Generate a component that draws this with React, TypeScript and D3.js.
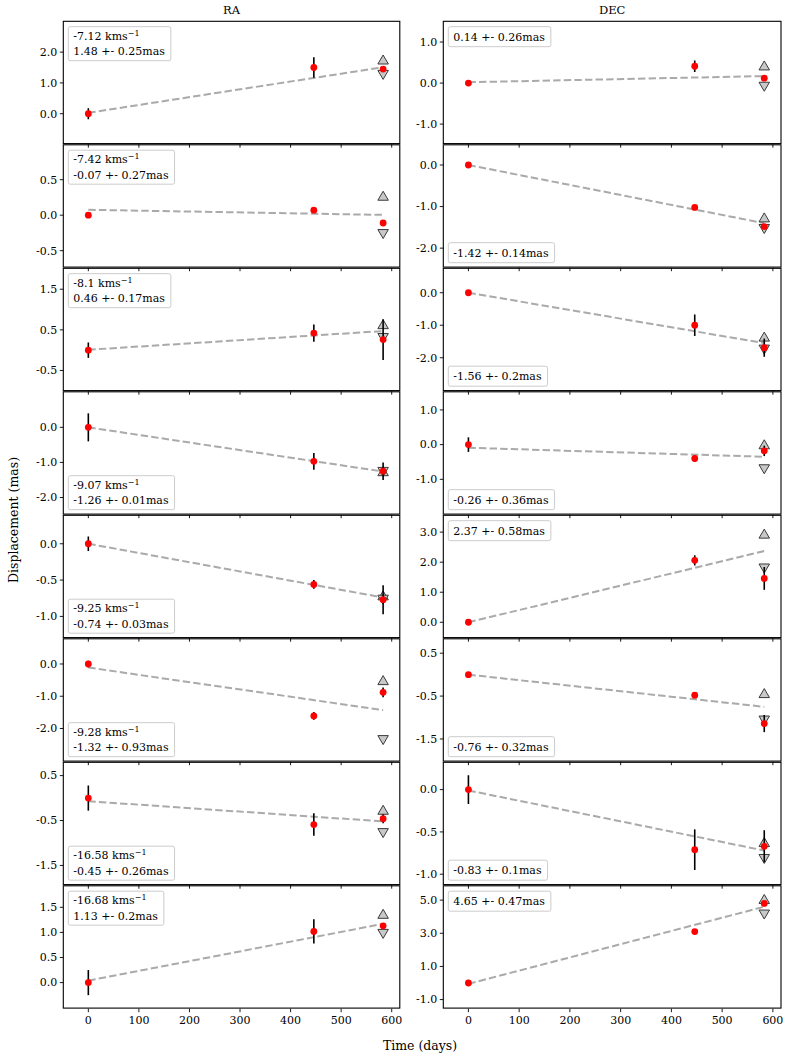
import { useEffect, useRef } from 'react'
import * as d3 from 'd3'

// epochs (days since first observation)
const days = [0, 446, 583]
const xTicks = [0, 100, 200, 300, 400, 500, 600]

// RA column
const raValues = [
  [0, 1.5, 1.45],
  [0, 0.07, -0.11],
  [0, 0.42, 0.26],
  [0, -0.97, -1.25],
  [0, -0.56, -0.77],
  [0, -1.61, -0.88],
  [0, -0.59, -0.46],
  [0, 1.02, 1.13],
]
const raErrors = [
  [0.18, 0.33, 0.05],
  [0.02, 0.02, 0.02],
  [0.19, 0.21, 0.5],
  [0.4, 0.24, 0.25],
  [0.1, 0.06, 0.2],
  [0.1, 0.12, 0.15],
  [0.28, 0.25, 0.1],
  [0.25, 0.24, 0.05],
]
const raFitStart = [0.03, 0.076, 0.01, 0.0, 0.0, -0.11, -0.07, 0.04]
const raFitEnd = [1.51, 0.004, 0.47, -1.26, -0.74, -1.43, -0.52, 1.17]
const raFitErr = [0.25, 0.27, 0.17, 0.01, 0.03, 0.93, 0.26, 0.2]
const raVelocity = ['-7.12', '-7.42', '-8.1', '-9.07', '-9.25', '-9.28', '-16.58', '-16.68']
const raShift = [
  '1.48 +- 0.25mas', '-0.07 +- 0.27mas', '0.46 +- 0.17mas', '-1.26 +- 0.01mas',
  '-0.74 +- 0.03mas', '-1.32 +- 0.93mas', '-0.45 +- 0.26mas', '1.13 +- 0.2mas',
]
const raLegendLoc = ['upper', 'upper', 'upper', 'lower', 'lower', 'lower', 'lower', 'upper']
const raDomains = [
  [-0.99, 3.02], [-0.74, 1.0], [-1.01, 2.03], [-2.49, 1.03],
  [-1.3, 0.4], [-3.03, 0.8], [-1.94, 0.81], [-0.52, 1.94],
]
const raTicks = [
  [0, 1, 2], [-0.5, 0, 0.5], [-0.5, 0.5, 1.5], [-2, -1, 0],
  [-1, -0.5, 0], [-2, -1, 0], [-1.5, -0.5, 0.5], [0, 0.5, 1, 1.5],
]

// DEC column
const decValues = [
  [0, 0.41, 0.12],
  [0, -1.02, -1.48],
  [0, -1.0, -1.69],
  [0, -0.4, -0.18],
  [0, 2.06, 1.46],
  [0, -0.48, -1.14],
  [0, -0.71, -0.67],
  [0, 3.1, 4.8],
]
const decErrors = [
  [0.03, 0.14, 0.03],
  [0.02, 0.03, 0.05],
  [0.03, 0.33, 0.28],
  [0.21, 0.1, 0.15],
  [0.03, 0.17, 0.38],
  [0.02, 0.03, 0.2],
  [0.17, 0.24, 0.19],
  [0.1, 0.1, 0.1],
]
const decFitStart = [0.02, 0.0, 0.0, -0.09, 0.0, 0.0, -0.01, -0.05]
const decFitEnd = [0.17, -1.4, -1.55, -0.35, 2.37, -0.75, -0.72, 4.6]
const decFitErr = [0.26, 0.14, 0.2, 0.36, 0.58, 0.32, 0.1, 0.47]
const decShift = [
  '0.14 +- 0.26mas', '-1.42 +- 0.14mas', '-1.56 +- 0.2mas', '-0.26 +- 0.36mas',
  '2.37 +- 0.58mas', '-0.76 +- 0.32mas', '-0.83 +- 0.1mas', '4.65 +- 0.47mas',
]
const decLegendLoc = ['upper', 'lower', 'lower', 'lower', 'upper', 'lower', 'lower', 'upper']
const decDomains = [
  [-1.49, 1.52], [-2.47, 0.5], [-3.03, 0.77], [-2.02, 1.54],
  [-0.53, 3.58], [-2.03, 0.85], [-1.13, 0.33], [-1.55, 5.9],
]
const decTicks = [
  [-1, 0, 1], [-2, -1, 0], [-2, -1, 0], [-1, 0, 1],
  [0, 1, 2, 3], [-1.5, -0.5, 0.5], [-1, -0.5, 0], [-1, 1, 3, 5],
]

const WIDTH = 789
const HEIGHT = 1061
const TOP = 20.7
const ROW_H = 123.5
const columns = [
  { left: 63.3, right: 399.8, title: 'RA' },
  { left: 443.3, right: 781, title: 'DEC' },
]
const FONT = "'DejaVu Serif', serif"

export default function App() {
  const svgRef = useRef<SVGSVGElement>(null)

  useEffect(() => {
    if (!svgRef.current) return
    const svg = d3.select(svgRef.current)
    svg.selectAll('*').remove()

    const tri = (w: number, h: number, up: boolean) =>
      up
        ? `M0,${-h / 2}L${w / 2},${h / 2}L${-w / 2},${h / 2}Z`
        : `M0,${h / 2}L${w / 2},${-h / 2}L${-w / 2},${-h / 2}Z`

    const drawPanel = (col: number, row: number) => {
      const c = columns[col]
      const y0 = TOP + row * ROW_H
      const y1 = y0 + ROW_H
      const isRA = col === 0
      const values = isRA ? raValues[row] : decValues[row]
      const errors = isRA ? raErrors[row] : decErrors[row]
      const fitStart = isRA ? raFitStart[row] : decFitStart[row]
      const fitEnd = isRA ? raFitEnd[row] : decFitEnd[row]
      const fitErr = isRA ? raFitErr[row] : decFitErr[row]
      const domain = isRA ? raDomains[row] : decDomains[row]
      const ticks = isRA ? raTicks[row] : decTicks[row]
      const loc = isRA ? raLegendLoc[row] : decLegendLoc[row]

      const x = d3.scaleLinear().domain([-49.5, 616]).range([c.left, c.right])
      const y = d3.scaleLinear().domain(domain).range([y1, y0])

      const g = svg.append('g')

      // fit line
      const line = d3.line<[number, number]>().x(d => x(d[0])).y(d => y(d[1]))
      g.append('path')
        .attr('d', line([[days[0], fitStart], [days[2], fitEnd]]))
        .attr('fill', 'none')
        .attr('stroke', '#aaaaaa')
        .attr('stroke-width', 2)
        .attr('stroke-dasharray', '7.4,3.2')

      // fit end +- error
      const tx = x(days[2])
      g.append('path')
        .attr('d', tri(10.5, 9, true))
        .attr('transform', `translate(${tx},${y(fitEnd + fitErr)})`)
        .attr('fill', '#c8c8c8')
        .attr('stroke', '#3a3a3a')
        .attr('stroke-width', 1)
      g.append('path')
        .attr('d', tri(10.5, 9, false))
        .attr('transform', `translate(${tx},${y(fitEnd - fitErr)})`)
        .attr('fill', '#c8c8c8')
        .attr('stroke', '#3a3a3a')
        .attr('stroke-width', 1)

      // error bars and points
      days.forEach((d, i) => {
        g.append('line')
          .attr('x1', x(d)).attr('x2', x(d))
          .attr('y1', y(values[i] - errors[i]))
          .attr('y2', y(values[i] + errors[i]))
          .attr('stroke', '#000')
          .attr('stroke-width', 1.6)
      })
      days.forEach((d, i) => {
        g.append('circle')
          .attr('cx', x(d)).attr('cy', y(values[i]))
          .attr('r', 3.4)
          .attr('fill', '#ff0000')
      })

      // spines
      g.append('rect')
        .attr('x', c.left).attr('y', y0 + 0.6)
        .attr('width', c.right - c.left).attr('height', ROW_H - 1.2)
        .attr('fill', 'none')
        .attr('stroke', '#000')
        .attr('stroke-width', 1.1)

      // y ticks
      ticks.forEach(t => {
        const ty = y(t)
        g.append('line')
          .attr('x1', c.left - 3.5).attr('x2', c.left)
          .attr('y1', ty).attr('y2', ty)
          .attr('stroke', '#000').attr('stroke-width', 0.9)
        g.append('text')
          .attr('x', c.left - 6).attr('y', ty)
          .attr('dy', '0.35em')
          .attr('text-anchor', 'end')
          .attr('font-size', 11)
          .attr('font-family', FONT)
          .text(t.toFixed(1))
      })

      // x ticks
      xTicks.forEach(t => {
        g.append('line')
          .attr('x1', x(t)).attr('x2', x(t))
          .attr('y1', y1).attr('y2', y1 + 3.5)
          .attr('stroke', '#000').attr('stroke-width', 0.9)
        if (row === 7) {
          g.append('text')
            .attr('x', x(t)).attr('y', y1 + 6)
            .attr('dy', '0.8em')
            .attr('text-anchor', 'middle')
            .attr('font-size', 11)
            .attr('font-family', FONT)
            .text(String(t))
        }
      })

      // legend
      const lines = isRA ? 2 : 1
      const boxH = lines === 2 ? 34 : 20
      const boxX = c.left + 5
      const boxY = loc === 'upper' ? y0 + 6 : y1 - 5 - boxH
      const leg = g.append('g')
      const rect = leg.append('rect')
        .attr('x', boxX).attr('y', boxY)
        .attr('height', boxH)
        .attr('rx', 2)
        .attr('fill', '#fff')
        .attr('fill-opacity', 0.85)
        .attr('stroke', '#cccccc')
        .attr('stroke-width', 1)
      const texts: SVGTextElement[] = []
      if (isRA) {
        const t1 = leg.append('text')
          .attr('x', boxX + 5).attr('y', boxY + 9).attr('dy', '0.35em')
          .attr('font-size', 11).attr('font-family', FONT)
        t1.append('tspan').text(`${raVelocity[row]} kms`)
        t1.append('tspan').attr('dy', -4).attr('font-size', 8).text('\u22121')
        const t2 = leg.append('text')
          .attr('x', boxX + 5).attr('y', boxY + 24.5).attr('dy', '0.35em')
          .attr('font-size', 11).attr('font-family', FONT)
          .text(raShift[row])
        texts.push(t1.node()!, t2.node()!)
      } else {
        const t = leg.append('text')
          .attr('x', boxX + 5).attr('y', boxY + 10).attr('dy', '0.35em')
          .attr('font-size', 11).attr('font-family', FONT)
          .text(decShift[row])
        texts.push(t.node()!)
      }
      const maxW = d3.max(texts, t => t.getComputedTextLength()) ?? 80
      rect.attr('width', maxW + 11)
    }

    for (let row = 0; row < 8; row++) {
      drawPanel(0, row)
      drawPanel(1, row)
    }

    // titles
    columns.forEach(c => {
      svg.append('text')
        .attr('x', (c.left + c.right) / 2).attr('y', 10)
        .attr('dy', '0.35em')
        .attr('text-anchor', 'middle')
        .attr('font-size', 11.5)
        .attr('font-family', FONT)
        .text(c.title)
    })

    // axis labels
    svg.append('text')
      .attr('transform', `translate(14,520) rotate(-90)`)
      .attr('dy', '0.35em')
      .attr('text-anchor', 'middle')
      .attr('font-size', 12.5)
      .attr('font-family', FONT)
      .text('Displacement (mas)')
    svg.append('text')
      .attr('x', 420).attr('y', 1046)
      .attr('dy', '0.35em')
      .attr('text-anchor', 'middle')
      .attr('font-size', 12.5)
      .attr('font-family', FONT)
      .text('Time (days)')
  }, [])

  return (
    <svg
      ref={svgRef}
      width={WIDTH}
      height={HEIGHT}
      style={{ position: 'absolute', left: 0, top: 0, background: '#fff', display: 'block' }}
    />
  )
}
